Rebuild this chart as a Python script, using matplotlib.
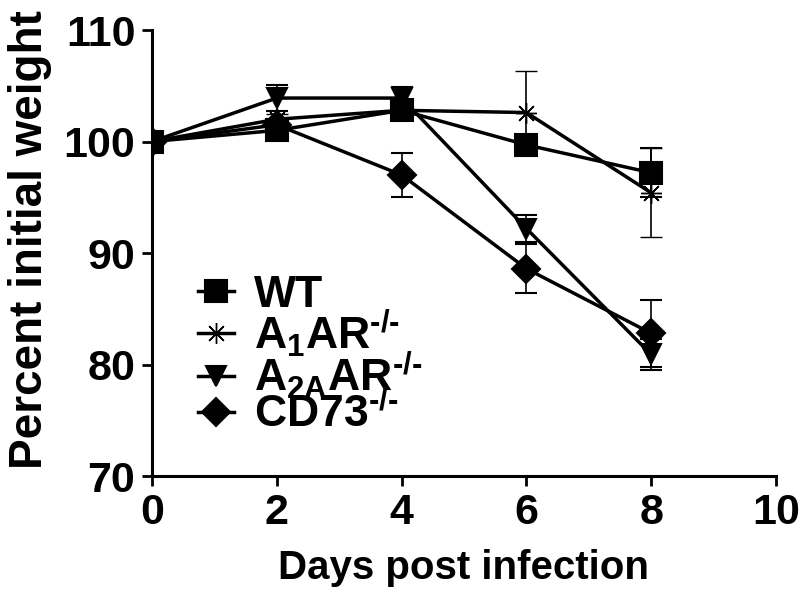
import matplotlib
matplotlib.use("Agg")
import matplotlib.pyplot as plt

plt.rcParams['font.family'] = ['Liberation Sans', 'DejaVu Sans']
plt.rcParams['mathtext.fontset'] = 'custom'
plt.rcParams['mathtext.rm'] = 'Liberation Sans'
plt.rcParams['mathtext.it'] = 'Liberation Sans:italic'
plt.rcParams['mathtext.bf'] = 'Liberation Sans:bold'

days = [0, 2, 4, 6, 8]
wt = [100.0, 101.0, 102.8, 99.7, 97.2]
wt_err = [0.3, 0.5, 0.5, 0.6, 2.2]
a1 = [100.0, 102.0, 102.8, 102.6, 95.4]
a1_err = [0.3, 0.5, 0.5, 3.7, 4.0]
a2a = [100.0, 103.9, 103.9, 92.2, 80.9]
a2a_err = [0.3, 1.2, 1.0, 1.2, 1.4]
cd73 = [100.0, 101.5, 97.0, 88.6, 82.8]
cd73_err = [0.3, 0.5, 2.0, 2.2, 3.0]

hy = '\u2010/\u2010'
labels = ['WT', r'A$_{\mathregular{1}}$AR$^{\mathregular{' + hy + '}}$',
          r'A$_{\mathregular{2A}}$AR$^{\mathregular{' + hy + '}}$',
          r'CD73$^{\mathregular{' + hy + '}}$']
markers = ['s', (8, 2, 0), 'v', 'D']
msizes = [16, 15, 15, 14]
mews = [1.5, 1.0, 1.5, 1.5]
series = [wt, a1, a2a, cd73]
errs = [wt_err, a1_err, a2a_err, cd73_err]

fig = plt.figure(figsize=(8, 5.96), dpi=100)
ax = fig.add_axes([0.19, 0.2013, 0.78, 0.7483])

handles = []
for y, e, m, ms, mw, lab in zip(series, errs, markers, msizes, mews, labels):
    c = ax.errorbar(days, y, yerr=e, color='black', lw=2.5, marker=m, ms=ms,
                    mew=mw, mec='black', mfc='black', ecolor='black',
                    elinewidth=1.2, capsize=8, capthick=1.2, label=lab)
    handles.append(c[0])

ax.set_xlim(0, 10)
ax.set_ylim(70, 110)
ax.set_xticks([0, 2, 4, 6, 8, 10])
ax.set_yticks([70, 80, 90, 100, 110])
for s in ['top', 'right']:
    ax.spines[s].set_visible(False)
for s in ['left', 'bottom']:
    ax.spines[s].set_linewidth(2.2)
ax.tick_params(axis='both', width=2, length=7, labelsize=31, pad=5)
for t in ax.get_xticklabels() + ax.get_yticklabels():
    t.set_fontweight('bold')
ax.set_xlabel('Days post infection', fontsize=29, fontweight='bold', labelpad=12)
ax.set_ylabel('Percent initial weight', fontsize=33, fontweight='bold', labelpad=8)
ax.yaxis.label.set_y(0.53)

leg = ax.legend(handles, labels, loc='upper left', bbox_to_anchor=(0.074, 0.451),
                frameon=False, fontsize=32, handlelength=0.8, handletextpad=0.45,
                labelspacing=-0.2, borderpad=0, borderaxespad=0)
for t in leg.get_texts():
    t.set_fontweight('bold')

fig.savefig('out.png', dpi=100)
